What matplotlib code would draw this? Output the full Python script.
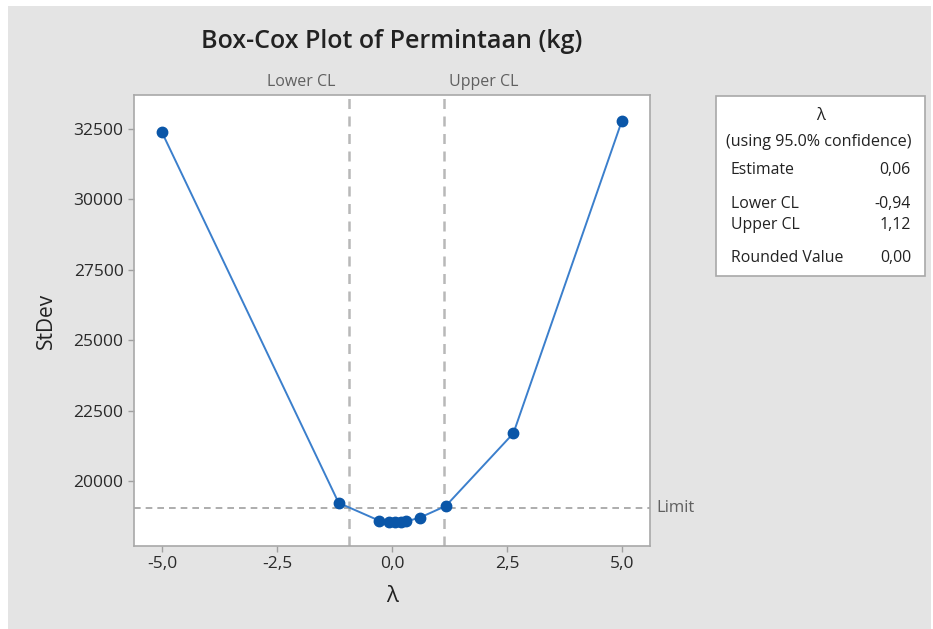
import matplotlib
matplotlib.use("Agg")
import matplotlib.pyplot as plt
from matplotlib.patches import Rectangle

# data
lam = [-5.0, -1.16, -0.28, -0.07, 0.06, 0.19, 0.31, 0.61, 1.17, 2.64, 5.0]
stdev = [32370, 19230, 18600, 18560, 18555, 18560, 18570, 18710, 19120, 21700, 32790]
lower_cl = -0.94
upper_cl = 1.12
limit = 19040
xticks = [-5.0, -2.5, 0.0, 2.5, 5.0]
yticks = [20000, 22500, 25000, 27500, 30000, 32500]
info_rows = [("Estimate", "0,06"), ("Lower CL", "-0,94"), ("Upper CL", "1,12"), ("Rounded Value", "0,00")]

plt.rcParams["font.family"] = ["Open Sans", "DejaVu Sans"]

W, H = 933, 629
fig = plt.figure(figsize=(W / 100, H / 100), dpi=100)
fig.patch.set_facecolor("white")
fig.add_artist(Rectangle((8 / W, 0), (931 - 8) / W, (H - 6) / H,
                         transform=fig.transFigure, facecolor="#e4e4e4",
                         edgecolor="none", zorder=-10))

ax = fig.add_axes([134 / W, 1 - 546 / H, (650 - 134) / W, (546 - 95) / H])
ax.set_facecolor("white")

ax.plot(lam, stdev, color="#3b7fcc", lw=1.4, zorder=3)
ax.plot(lam, stdev, "o", color="#0a56a8", ms=7.5, zorder=4)

dash = (0, (4, 3))
ax.axvline(lower_cl, color="#b8b8b8", lw=1.8, ls=dash, zorder=1)
ax.axvline(upper_cl, color="#b8b8b8", lw=1.8, ls=dash, zorder=1)
ax.axhline(limit, color="#a0a0a0", lw=1.2, ls=dash, zorder=1)

ax.set_xlim(-5.61, 5.61)
ax.set_ylim(17700, 33700)
ax.set_xticks(xticks)
ax.set_xticklabels([f"{v:.1f}".replace(".", ",") for v in xticks])
ax.set_yticks(yticks)
ax.set_yticklabels([str(v) for v in yticks])
ax.tick_params(colors="#a0a0a0", labelcolor="#2a2a2a", labelsize=12.5,
               length=4, width=1)
for s in ax.spines.values():
    s.set_color("#a8a8a8")
    s.set_linewidth(1.2)

ax.set_xlabel("λ", fontsize=16, color="#222222", labelpad=10)
ax.set_ylabel("StDev", fontsize=15, color="#222222", labelpad=12)

fig.text(392 / W, 1 - 42 / H, "Box-Cox Plot of Permintaan (kg)", ha="center",
         va="center", fontsize=18, weight="semibold", color="#222222")

# CL labels above axes and Limit label on the right
ax.text(lower_cl - 0.3, 1.012, "Lower CL", transform=ax.get_xaxis_transform(),
        ha="right", va="bottom", fontsize=11.5, color="#606060")
ax.text(upper_cl + 0.12, 1.012, "Upper CL", transform=ax.get_xaxis_transform(),
        ha="left", va="bottom", fontsize=11.5, color="#606060")
ax.text(1.012, limit, "Limit", transform=ax.get_yaxis_transform(),
        ha="left", va="center", fontsize=12, color="#606060")

# info box
bx0, by0, bx1, by1 = 716, 96, 925, 276
fig.add_artist(Rectangle((bx0 / W, 1 - by1 / H), (bx1 - bx0) / W, (by1 - by0) / H,
                         transform=fig.transFigure, facecolor="white",
                         edgecolor="#a8a8a8", lw=1.2))
cx = (bx0 + bx1) / 2
fig.text(cx / W, 1 - 116 / H, "λ", ha="center", va="center", fontsize=12, color="#222222")
fig.text((cx - 2) / W, 1 - 142 / H, "(using 95.0% confidence)", ha="center", va="center",
         fontsize=11.6, color="#222222")
row_y = [170, 204, 225, 258]
for (lab, val), y in zip(info_rows, row_y):
    fig.text(731 / W, 1 - y / H, lab, ha="left", va="center", fontsize=11.4, color="#222222")
    fig.text(911 / W, 1 - y / H, val, ha="right", va="center", fontsize=11.4, color="#222222")

fig.savefig("out.png", dpi=100)
